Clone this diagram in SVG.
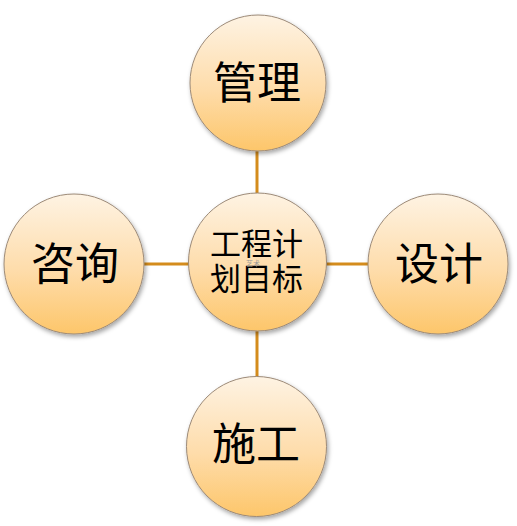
<svg xmlns="http://www.w3.org/2000/svg" width="517" height="526" viewBox="0 0 517 526">
<defs>
<linearGradient id="g" x1="0" y1="0" x2="0" y2="1">
<stop offset="0" stop-color="#fef3e3"/>
<stop offset="0.55" stop-color="#fedcaa"/>
<stop offset="1" stop-color="#fdc66a"/>
</linearGradient>
<filter id="sh" x="-20%" y="-20%" width="140%" height="140%">
<feDropShadow dx="1.5" dy="2.5" stdDeviation="2" flood-color="#000" flood-opacity="0.35"/>
</filter>
<style>
.c{fill:url(#g);stroke:#9c8a78;stroke-width:1;filter:url(#sh)}
.t{font-family:"Noto Sans CJK SC","Noto Sans CJK JP",sans-serif;fill:#000;text-anchor:middle}
.big{font-size:44px}
.mid{font-size:31px}
.ln{stroke:#d48c1c;stroke-width:3;fill:none}
</style>
</defs>
<g id="connectors">
<line class="ln" x1="257" y1="150" x2="257" y2="196"/>
<line class="ln" x1="142" y1="264" x2="190" y2="264"/>
<line class="ln" x1="325" y1="264" x2="370" y2="264"/>
<line class="ln" x1="257" y1="328" x2="257" y2="378"/>
</g>
<g id="center">
<circle class="c" cx="257.5" cy="262" r="69"/>
<text class="t mid" x="256.5" y="255">工程计</text>
<text class="t mid" x="256.5" y="290">划目标</text>
<text class="t" x="253" y="266" font-size="7" fill="#999" style="fill:#999">艺术</text>
</g>
<g id="top">
<circle class="c" cx="258" cy="83" r="68"/>
<text class="t big" x="257" y="99">管理</text>
</g>
<g id="left">
<circle class="c" cx="74" cy="264" r="70"/>
<text class="t big" x="75" y="280">咨询</text>
</g>
<g id="right">
<circle class="c" cx="438" cy="264" r="70"/>
<text class="t big" x="439" y="280">设计</text>
</g>
<g id="bottom">
<circle class="c" cx="256.5" cy="446.5" r="70"/>
<text class="t big" x="256" y="460">施工</text>
</g>
</svg>
